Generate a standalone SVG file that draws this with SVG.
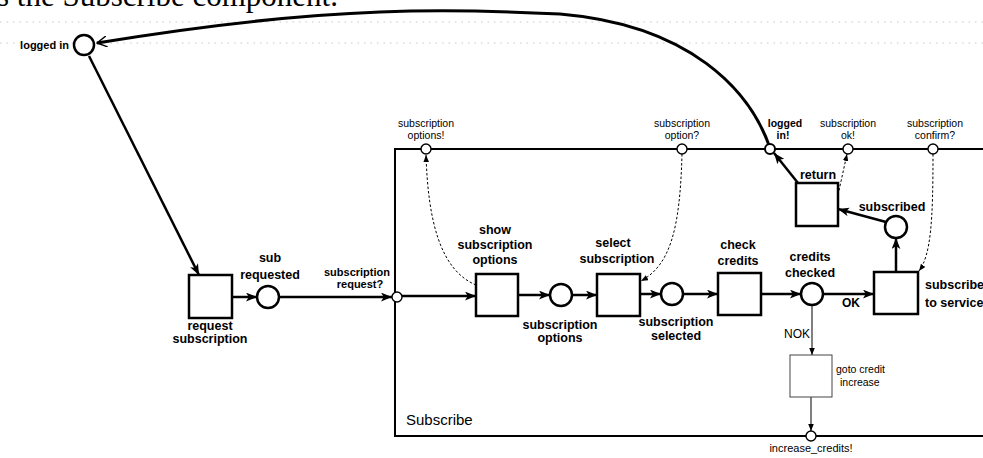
<svg xmlns="http://www.w3.org/2000/svg" width="983" height="458" viewBox="0 0 983 458">
<style>
.bx{fill:#fff;stroke:#000;stroke-width:2.5}
.pl{fill:#fff;stroke:#000;stroke-width:2.5}
.pt{fill:#fff;stroke:#000;stroke-width:1.4}
.th{fill:none;stroke:#000;stroke-width:2.5}
.tn{fill:none;stroke:#000;stroke-width:1}
.dt{fill:none;stroke:#000;stroke-width:1;stroke-dasharray:2.5 2}
.fa{fill:none;stroke:#c8c8c8;stroke-width:1;stroke-dasharray:1.5 5}
.lb{font-family:"Liberation Sans",Arial,sans-serif;font-weight:bold;font-size:12.5px;text-anchor:middle;fill:#000}
.ps{font-family:"Liberation Sans",Arial,sans-serif;font-size:10.5px;text-anchor:middle;fill:#000}
.rg{font-family:"Liberation Sans",Arial,sans-serif;font-size:11px;fill:#000}
</style>
<defs>
<marker id="ah" viewBox="0 0 10 8" refX="10" refY="4" markerWidth="11" markerHeight="9" markerUnits="userSpaceOnUse" orient="auto"><path d="M0,0 L10,4 L0,8 L2.5,4 z" fill="#000"/></marker>
<marker id="as" viewBox="0 0 10 8" refX="10" refY="4" markerWidth="7" markerHeight="6" markerUnits="userSpaceOnUse" orient="auto"><path d="M0,0 L10,4 L0,8 z" fill="#000"/></marker>
<marker id="ao" viewBox="0 0 10 10" refX="9" refY="5" markerWidth="11" markerHeight="11" markerUnits="userSpaceOnUse" orient="auto"><path d="M0,0 L9,5 L0,10" fill="none" stroke="#000" stroke-width="1.3"/></marker>
</defs>
<rect width="983" height="458" fill="#fff"/>
<text x="-3" y="6" font-family="Liberation Serif,Times New Roman,serif" font-size="31">s the Subscribe component.</text>
<path class="fa" d="M0,22 H983"/>
<path class="fa" d="M0,43 H983"/>
<g id="subscribe-component">
<path d="M983,149 H395 V436 H983" fill="none" stroke="#000" stroke-width="2"/>
<text x="406" y="425" font-family="Liberation Sans,Arial,sans-serif" font-size="15">Subscribe</text>
</g>
<g id="connectors">
<path class="th" d="M770,148 C750,90 690,25 560,14 C480,10 430,10 380,12 C300,15 200,26 97,43" style="stroke-width:3" marker-end="url(#ao)"/>
<path class="th" d="M89,56 L199,275" marker-end="url(#ah)"/>
<path class="th" d="M232,297 H257" marker-end="url(#ah)"/>
<path class="th" d="M279,297 H392" marker-end="url(#ah)"/>
<path class="th" d="M402,296 H476" marker-end="url(#ah)"/>
<path class="th" d="M518,295 H550" marker-end="url(#ah)"/>
<path class="th" d="M572,295 H597" marker-end="url(#ah)"/>
<path class="th" d="M640,294 H661" marker-end="url(#ah)"/>
<path class="th" d="M683,294 H718" marker-end="url(#ah)"/>
<path class="th" d="M761,294 H801" marker-end="url(#ah)"/>
<path class="th" d="M823,294 H874" marker-end="url(#ah)"/>
<path class="th" d="M896,272 V238" marker-end="url(#ah)"/>
<path class="th" d="M886,222 L838,209" marker-end="url(#ah)"/>
<path class="th" d="M798,183 L774,153" marker-end="url(#ah)"/>
<path class="tn" d="M812,305 V355" marker-end="url(#as)"/>
<path class="tn" d="M811,397 V431" marker-end="url(#as)"/>
<path class="dt" d="M476,285 C440,270 428,220 426,155" marker-end="url(#as)"/>
<path class="dt" d="M682,154 C680,230 670,265 641,281" marker-end="url(#as)"/>
<path class="dt" d="M838,195 L847,154" marker-end="url(#as)"/>
<path class="dt" d="M933,154 C933,220 931,255 919,271" marker-end="url(#as)"/>
<text class="rg" x="842" y="307" style="font-weight:bold;font-size:12px">OK</text>
<text class="rg" x="810" y="338" style="text-anchor:end;font-size:12px">NOK</text>
</g>
<g id="logged-in">
<circle class="pl" cx="84" cy="45" r="10"/>
<text class="lb" x="69" y="49" style="font-size:11px;text-anchor:end">logged in</text>
</g>
<g id="request-subscription">
<rect class="bx" x="189" y="275" width="43" height="43"/>
<text class="lb" x="210" y="330">request</text>
<text class="lb" x="210" y="343">subscription</text>
</g>
<g id="sub-requested">
<circle class="pl" cx="268" cy="297" r="11"/>
<text class="lb" x="270" y="262">sub</text>
<text class="lb" x="270" y="279">requested</text>
</g>
<g id="port-subscription-request">
<circle class="pt" cx="397" cy="297" r="5"/>
<text class="lb" x="357" y="276" style="font-size:11px">subscription</text>
<text class="lb" x="360" y="288" style="font-size:11px">request?</text>
</g>
<g id="show-subscription-options">
<rect class="bx" x="476" y="274" width="42" height="42"/>
<text class="lb" x="495" y="234">show</text>
<text class="lb" x="495" y="249">subscription</text>
<text class="lb" x="495" y="264">options</text>
</g>
<g id="subscription-options">
<circle class="pl" cx="561" cy="295" r="11"/>
<text class="lb" x="560" y="329">subscription</text>
<text class="lb" x="560" y="342">options</text>
</g>
<g id="select-subscription">
<rect class="bx" x="597" y="274" width="43" height="42"/>
<text class="lb" x="613" y="247">select</text>
<text class="lb" x="617" y="263">subscription</text>
</g>
<g id="subscription-selected">
<circle class="pl" cx="672" cy="294" r="11"/>
<text class="lb" x="676" y="326">subscription</text>
<text class="lb" x="676" y="340">selected</text>
</g>
<g id="check-credits">
<rect class="bx" x="718" y="273" width="43" height="42"/>
<text class="lb" x="738" y="249">check</text>
<text class="lb" x="738" y="265">credits</text>
</g>
<g id="credits-checked">
<circle class="pl" cx="812" cy="294" r="11"/>
<text class="lb" x="810" y="261">credits</text>
<text class="lb" x="810" y="277">checked</text>
</g>
<g id="subscribe-to-service">
<rect class="bx" x="874" y="272" width="44" height="42"/>
<text class="lb" x="925" y="289" style="text-anchor:start">subscribe</text>
<text class="lb" x="925" y="307" style="text-anchor:start">to service</text>
</g>
<g id="subscribed">
<circle class="pl" cx="896" cy="227" r="11"/>
<text class="lb" x="892" y="211">subscribed</text>
</g>
<g id="return">
<rect class="bx" x="796" y="183" width="42" height="43"/>
<text class="lb" x="818" y="179">return</text>
</g>
<g id="goto-credit-increase">
<rect x="790" y="355" width="42" height="42" fill="#fff" stroke="#444" stroke-width="1"/>
<text class="rg" x="836" y="373" style="font-size:10.5px">goto credit</text>
<text class="rg" x="840" y="386" style="font-size:10.5px">increase</text>
</g>
<g id="port-subscription-options">
<circle class="pt" cx="426" cy="149" r="5"/>
<text class="ps" x="426" y="127">subscription</text>
<text class="ps" x="426" y="139">options!</text>
</g>
<g id="port-subscription-option">
<circle class="pt" cx="682" cy="149" r="5"/>
<text class="ps" x="682" y="127">subscription</text>
<text class="ps" x="682" y="139">option?</text>
</g>
<g id="port-logged-in">
<circle class="pt" cx="770" cy="149" r="5" style="stroke-width:2"/>
<text class="ps" x="785" y="127" style="font-weight:bold">logged</text>
<text class="ps" x="783" y="139" style="font-weight:bold">in!</text>
</g>
<g id="port-subscription-ok">
<circle class="pt" cx="848" cy="149" r="5"/>
<text class="ps" x="848" y="127">subscription</text>
<text class="ps" x="848" y="139">ok!</text>
</g>
<g id="port-subscription-confirm">
<circle class="pt" cx="933" cy="149" r="5"/>
<text class="ps" x="935" y="127">subscription</text>
<text class="ps" x="935" y="139">confirm?</text>
</g>
<g id="port-increase-credits">
<circle class="pt" cx="811" cy="436" r="5"/>
<text class="ps" x="811" y="452" style="font-size:11px">increase_credits!</text>
</g>
</svg>
